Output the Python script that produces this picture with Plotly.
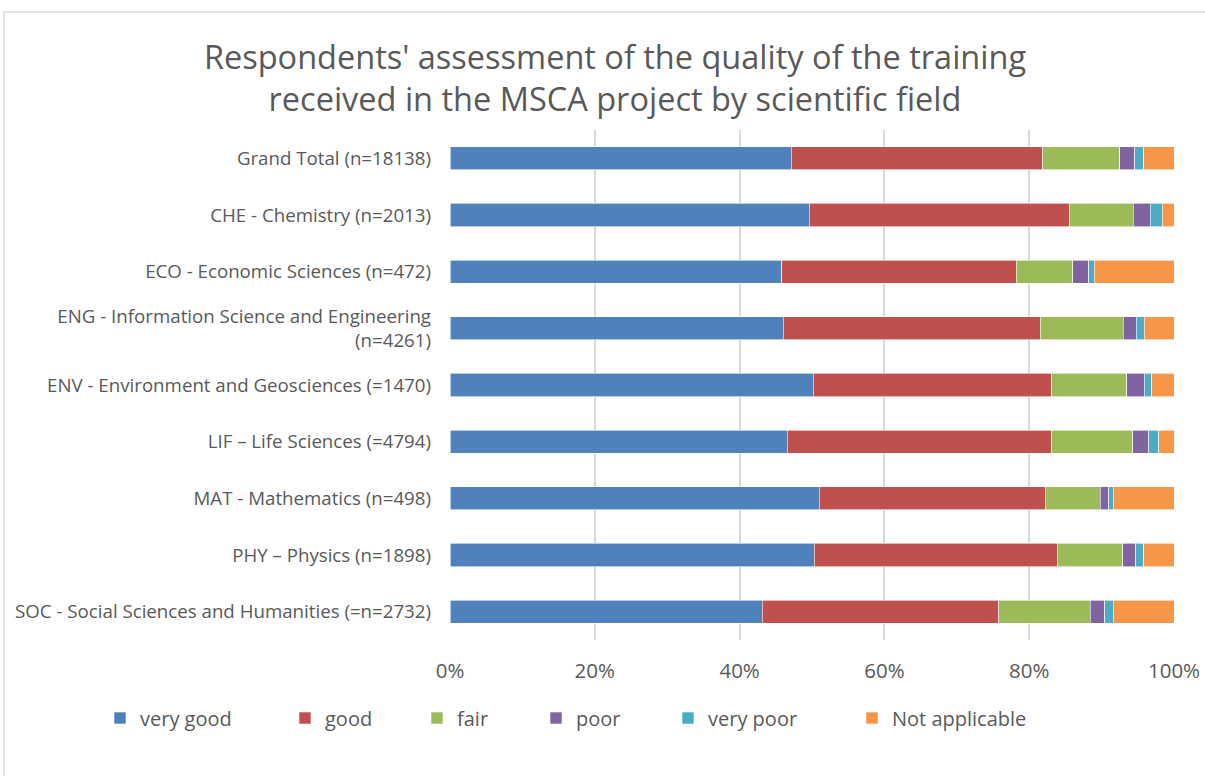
import plotly.graph_objects as go

categories = [
    "Grand Total (n=18138)",
    "CHE - Chemistry (n=2013)",
    "ECO - Economic Sciences (n=472)",
    "ENG - Information Science and Engineering<br>(n=4261)",
    "ENV - Environment and Geosciences (=1470)",
    "LIF – Life Sciences (=4794)",
    "MAT - Mathematics (n=498)",
    "PHY – Physics (n=1898)",
    "SOC - Social Sciences and Humanities (=n=2732)",
]

very_good = [47.1, 49.6, 45.8, 46.0, 50.2, 46.6, 51.0, 50.3, 43.1]
good = [34.8, 35.9, 32.4, 35.5, 32.9, 36.5, 31.2, 33.6, 32.7]
fair = [10.6, 8.9, 7.8, 11.5, 10.4, 11.2, 7.6, 9.0, 12.6]
poor = [2.1, 2.3, 2.2, 1.8, 2.4, 2.2, 1.2, 1.8, 2.0]
very_poor = [1.2, 1.7, 0.8, 1.1, 1.0, 1.4, 0.6, 1.1, 1.2]
not_applicable = [4.2, 1.6, 11.0, 4.1, 3.1, 2.1, 8.4, 4.2, 8.4]

series = [
    ("very good", very_good, "#4F81BD"),
    ("good", good, "#C0504D"),
    ("fair", fair, "#9BBB59"),
    ("poor", poor, "#8064A2"),
    ("very poor", very_poor, "#4BACC6"),
    ("Not applicable", not_applicable, "#F79646"),
]

# legend entry left edges in pixels (Excel spreads them by text width)
legend_px = [100, 285, 417, 536, 668, 852]

W, H = 1205, 776
L, R, T, B = 450, 31, 130, 136
pw = W - L - R
ph = H - T - B

fig = go.Figure()
layout_legends = {}
for i, (name, vals, col) in enumerate(series):
    key = "legend" if i == 0 else f"legend{i + 1}"
    fig.add_trace(go.Bar(
        y=categories, x=vals, name=name, orientation="h",
        marker=dict(color=col, line=dict(color="white", width=0.6)),
        legend=key,
    ))
    layout_legends[key] = dict(
        xref="container", yref="container",
        x=legend_px[i] / W, xanchor="left",
        y=1 - 718 / H, yanchor="middle",
        orientation="h", bgcolor="rgba(0,0,0,0)",
        font=dict(size=20, color="#595959"),
    )

fig.update_layout(
    barmode="stack",
    barnorm="percent",
    bargap=0.59,
    width=W, height=H,
    margin=dict(l=L, r=R, t=T, b=B),
    paper_bgcolor="white", plot_bgcolor="white",
    font=dict(family="Open Sans, Liberation Sans, sans-serif", color="#595959"),
    title=dict(
        text="Respondents' assessment of the quality of the training<br>received in the MSCA project by scientific field",
        x=615 / W, xanchor="center", y=1 - 69 / H, yanchor="middle",
        font=dict(size=32.5, color="#595959"),
    ),
    showlegend=True,
    **layout_legends,
)

fig.update_xaxes(
    range=[0, 100], tickvals=[0, 20, 40, 60, 80, 100],
    ticktext=["0%", "20%", "40%", "60%", "80%", "100%"],
    showgrid=True, gridcolor="#D9D9D9", gridwidth=1.5,
    zeroline=False, showline=False, ticks="", ticklabelstandoff=16,
    tickfont=dict(size=20.5, color="#595959"), automargin=False,
)
fig.update_yaxes(
    categoryorder="array", categoryarray=categories, autorange="reversed",
    showgrid=False, ticks="", ticklabelstandoff=18,
    tickfont=dict(size=18.7, color="#595959"), automargin=False,
)

# chart-area frame (left and top edges visible in the picture)
fig.add_shape(
    type="rect", xref="paper", yref="paper",
    x0=(4 - L) / pw, x1=(W + 10 - L) / pw,
    y0=(T + ph - (H + 10)) / ph, y1=(T + ph - 12) / ph,
    line=dict(color="#D9D9D9", width=1.5), fillcolor="rgba(0,0,0,0)", layer="below",
)

# drop the default page margin so the figure sits at the window's top-left
fig.write_html(
    "out.html",
    config={"displayModeBar": False},
    post_script="document.body.style.margin='0';",
)
